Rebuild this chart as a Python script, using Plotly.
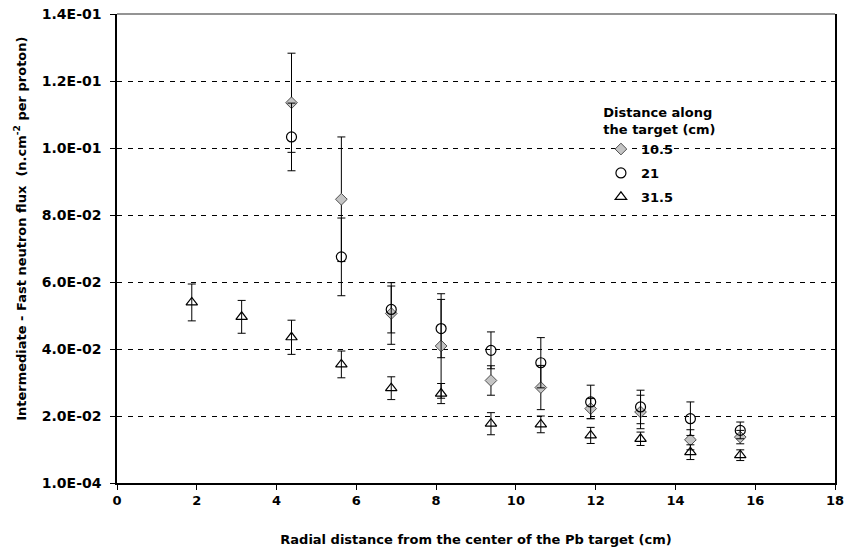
import plotly.graph_objects as go

# ---- data ----
radial_all = [1.875, 3.125, 4.375, 5.625, 6.875, 8.125, 9.375, 10.625, 11.875, 13.125, 14.375, 15.625]

radial_10_5 = [4.375, 5.625, 6.875, 8.125, 9.375, 10.625, 11.875, 13.125, 14.375, 15.625]
flux_10_5 = [0.1136, 0.0848, 0.0507, 0.0410, 0.0307, 0.0286, 0.0223, 0.0213, 0.0130, 0.0138]
err_10_5 = [0.0148, 0.0186, 0.0092, 0.0156, 0.0044, 0.0066, 0.0030, 0.0050, 0.0030, 0.0020]

radial_21 = [4.375, 5.625, 6.875, 8.125, 9.375, 10.625, 11.875, 13.125, 14.375, 15.625]
flux_21 = [0.1034, 0.0676, 0.0519, 0.0462, 0.0397, 0.0360, 0.0243, 0.0228, 0.0193, 0.0158]
err_21 = [0.0101, 0.0116, 0.0070, 0.0087, 0.0055, 0.0075, 0.0050, 0.0050, 0.0050, 0.0025]

radial_31_5 = radial_all
flux_31_5 = [0.0540, 0.0497, 0.0436, 0.0355, 0.0284, 0.0268, 0.0178, 0.0176, 0.0143, 0.0133, 0.0093, 0.0084]
err_31_5 = [0.0055, 0.0049, 0.0051, 0.0040, 0.0034, 0.0030, 0.0033, 0.0025, 0.0024, 0.0020, 0.0022, 0.0016]

series_names = ["10.5", "21", "31.5"]
x_tick_vals = [0, 2, 4, 6, 8, 10, 12, 14, 16, 18]
y_tick_vals = [0.0001, 0.0201, 0.0401, 0.0601, 0.0801, 0.1001, 0.1201, 0.1401]
y_tick_labels = ["1.0E-04", "2.0E-02", "4.0E-02", "6.0E-02", "8.0E-02", "1.0E-01", "1.2E-01", "1.4E-01"]

FONT = "DejaVu Sans, Liberation Sans, Arial, sans-serif"


def f(size):
    return dict(family=FONT, size=size, color="black", weight="bold")


fig = go.Figure()

err_style = dict(type="data", visible=True, color="black", thickness=1, width=4)

fig.add_trace(go.Scatter(
    x=radial_10_5, y=flux_10_5, mode="markers", name=series_names[0],
    legendgroup="a",
    error_y=dict(array=err_10_5, **err_style),
    marker=dict(symbol="diamond", size=9, color="#c4c4c4",
                line=dict(color="#505050", width=1)),
))
fig.add_trace(go.Scatter(
    x=radial_21, y=flux_21, mode="markers", name=series_names[1],
    legendgroup="b",
    error_y=dict(array=err_21, **err_style),
    marker=dict(symbol="circle-open", size=10, color="black",
                line=dict(color="black", width=1.2)),
))
fig.add_trace(go.Scatter(
    x=radial_31_5, y=flux_31_5, mode="markers", name=series_names[2],
    legendgroup="c",
    error_y=dict(array=err_31_5, **err_style),
    marker=dict(symbol="triangle-up-open", size=10, color="black",
                line=dict(color="black", width=1.2)),
))

fig.update_layout(
    width=845, height=554,
    margin=dict(l=117, r=10, t=14, b=71),
    paper_bgcolor="white", plot_bgcolor="white",
    font=f(13),
    showlegend=True,
    legend=dict(
        title=dict(text="Distance along<br>the target (cm)", side="top center", font=f(13)),
        font=f(13),
        x=0.674, y=0.816, xanchor="left", yanchor="top",
        bgcolor="rgba(0,0,0,0)", tracegroupgap=4, itemwidth=30,
    ),
)

fig.update_xaxes(
    range=[0, 18], tickvals=x_tick_vals, automargin=False,
    showline=True, linecolor="black", linewidth=1.5,
    ticks="outside", ticklen=5, tickcolor="black",
    showgrid=False, zeroline=False, ticklabeloverflow="allow",
    tickfont=f(13),
    title=dict(text="Radial distance from the center of the Pb target (cm)", standoff=28, font=f(13)),
)
fig.update_yaxes(
    range=[0.0001, 0.1401], tickvals=y_tick_vals, ticktext=y_tick_labels, automargin=False,
    showline=True, linecolor="black", linewidth=1.5, mirror=True,
    ticks="outside", ticklen=5, tickcolor="black", ticklabelstandoff=6,
    showgrid=True, gridcolor="black", gridwidth=1, griddash="5px,5.5px",
    zeroline=False, ticklabeloverflow="allow",
    tickfont=f(14),
)

# y-axis title (placed as in the reference, a little above the plot centre)
fig.add_annotation(
    text="Intermediate - Fast neutron flux\u00a0\u00a0(n.cm<sup>-2</sup> per proton)",
    xref="paper", yref="paper", x=-0.135, y=0.542, textangle=-90,
    showarrow=False, xanchor="center", yanchor="middle", font=f(13),
)

# top border of the plot area (grey in the reference)
fig.add_shape(type="line", xref="paper", yref="paper", x0=0, x1=1, y0=1, y1=1,
              line=dict(color="#707070", width=1.5))

fig.write_html("out.html", config={"displayModeBar": False},
               post_script="document.body.style.margin='0';")
